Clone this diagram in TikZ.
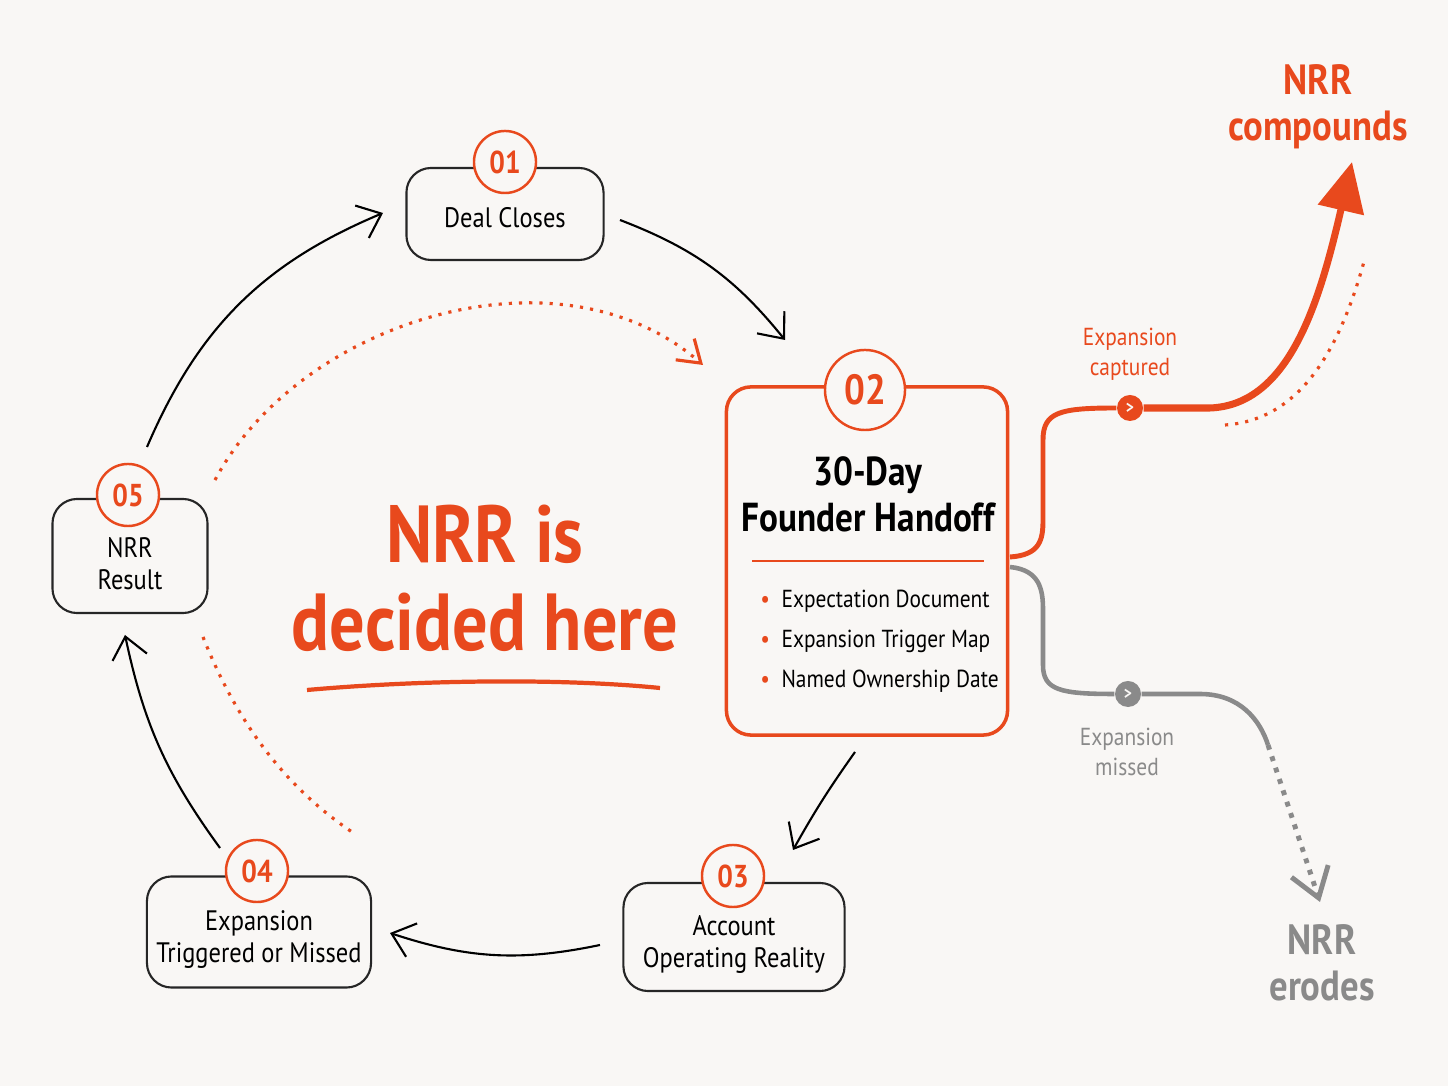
\documentclass[tikz,border=0pt]{standalone}
\usepackage{fontspec}
\setmainfont[FakeStretch=0.87]{PT Sans}
\usetikzlibrary{arrows.meta}
\definecolor{bg}{HTML}{F9F7F5}
\definecolor{org}{HTML}{E8491D}
\definecolor{gr}{HTML}{8A8A8A}
\begin{document}
\begin{tikzpicture}[x=0.01cm,y=-0.01cm,
 box/.style={draw=black!85,line width=0.6pt,rounded corners=7pt,fill=bg,align=center,font=\fontsize{8}{9}\selectfont,inner sep=0pt},
 num/.style={circle,draw=org,line width=0.7pt,fill=bg,text=org,font=\fontsize{9}{10}\selectfont\bfseries,minimum size=0.62cm,inner sep=0pt},
 cyc/.style={line width=0.6pt,-{Straight Barb[length=6pt,width=10pt]}},
 dot/.style={org,line width=0.9pt,dotted}]
\fill[bg] (0,0) rectangle (1448,1086);
\useasboundingbox (0,0) rectangle (1448,1086);
% boxes
\node[box,minimum width=1.97cm,minimum height=0.92cm] (b1) at (505,214) {\\[-1pt]Deal Closes};
\node[num] (n1) at (505,162) {01};
\node[box,draw=org,line width=1pt,minimum width=2.81cm,minimum height=3.48cm] (b2) at (867,561) {};
\node[num,minimum size=0.8cm,font=\fontsize{12}{13}\selectfont\bfseries] (n2) at (865,390) {02};
\node[font=\fontsize{11.5}{13}\selectfont\bfseries,align=center] (t2) at (868,494) {30-Day\\Founder Handoff};
\coordinate (l2a) at (752,561); \coordinate (l2b) at (984,561);
\draw[org,line width=0.8pt] (l2a) -- (l2b);
\node[anchor=west,font=\fontsize{7}{8}\selectfont] (p1) at (748,601) {\textcolor{org}{\textbullet}\ \ Expectation Document};
\node[anchor=west,font=\fontsize{7}{8}\selectfont] (p2) at (748,641) {\textcolor{org}{\textbullet}\ \ Expansion Trigger Map};
\node[anchor=west,font=\fontsize{7}{8}\selectfont] (p3) at (748,681) {\textcolor{org}{\textbullet}\ \ Named Ownership Date};
\node[box,minimum width=2.21cm,minimum height=1.08cm] (b3) at (734,937) {\\[1pt]Account\\Operating Reality};
\node[num] (n3) at (733,876) {03};
\node[box,minimum width=2.24cm,minimum height=1.11cm] (b4) at (259,932) {\\[1pt]Expansion\\Triggered or Missed};
\node[num] (n4) at (257,871) {04};
\node[box,minimum width=1.55cm,minimum height=1.14cm] (b5) at (130,556) {\\[1pt]NRR\\Result};
\node[num] (n5) at (128,495) {05};
% cycle arrows
\coordinate (a1s) at (620,220); \coordinate (a1e) at (785,340);
\draw[cyc] (a1s) to[bend left=15] (a1e);
\coordinate (a2s) at (855,752); \coordinate (a2e) at (793,850);
\draw[cyc] (a2s) to[bend right=3] (a2e);
\coordinate (a3s) at (600,945); \coordinate (a3e) at (390,933);
\draw[cyc] (a3s) to[bend left=15] (a3e);
\coordinate (a4s) at (220,848); \coordinate (a4e) at (125,635);
\draw[cyc] (a4s) to[bend left=12] (a4e);
\coordinate (a5s) at (147,447); \coordinate (a5e) at (383,213);
\draw[cyc] (a5s) to[bend left=22] (a5e);
% dotted arcs
\coordinate (d1s) at (215,480); \coordinate (d1e) at (703,365);
\draw[dot,-{Straight Barb[length=6pt,width=8pt]}] (d1s) .. controls (300,320) and (560,240) .. (d1e);
\coordinate (d2s) at (203,637); \coordinate (d2e) at (352,832);
\draw[dot] (d2s) .. controls (240,730) and (290,790) .. (d2e);
% center text
\node[text=org,font=\fontsize{23}{25}\selectfont\bfseries,align=center] (ct) at (485,578) {NRR is\\decided here};
\coordinate (u1) at (307,690); \coordinate (u2) at (660,688);
\draw[org,line width=1.2pt] (u1) .. controls (420,680) and (560,678) .. (u2);
% branches
\node[circle,fill=org,minimum size=0.26cm,inner sep=0pt] (c1) at (1130,408) {};
\node[text=bg,font=\tiny\bfseries] at (c1) {>};
\draw[org,line width=1.4pt] (1010,557) .. controls (1040,555) and (1043,540) .. (1043,520) -- (1043,440) .. controls (1043,412) and (1060,408) .. (c1.west);
\draw[org,line width=2pt,-{Triangle[length=14pt,width=13pt]}] (c1.east) -- (1210,408) .. controls (1290,405) and (1320,300) .. (1352,162);
\draw[dot] (1225,425) .. controls (1300,420) and (1340,350) .. (1365,258);
\node[text=org,font=\fontsize{7}{8.5}\selectfont,align=center] (lc) at (1130,354) {Expansion\\captured};
\node[text=org,font=\fontsize{12}{13}\selectfont\bfseries,align=center] (nc) at (1318,107) {NRR\\compounds};
\node[circle,fill=gr,minimum size=0.26cm,inner sep=0pt] (c2) at (1128,694) {};
\node[text=bg,font=\tiny\bfseries] at (c2) {>};
\draw[gr,line width=1.3pt] (1010,567) .. controls (1040,570) and (1043,590) .. (1043,610) -- (1043,665) .. controls (1043,690) and (1060,694) .. (c2.west);
\draw[gr,line width=1.3pt] (c2.east) -- (1200,694) .. controls (1240,694) and (1260,720) .. (1268,745);
\coordinate (g1) at (1268,745); \coordinate (g2) at (1320,902);
\draw[gr,line width=1.4pt,dotted,-{Straight Barb[length=8pt,width=11pt]}] (g1) -- (g2);
\node[text=gr,font=\fontsize{7}{8.5}\selectfont,align=center] (lm) at (1127,752) {Expansion\\missed};
\node[text=gr,font=\fontsize{12}{13}\selectfont\bfseries,align=center] (ne) at (1322,963) {NRR\\erodes};
\end{tikzpicture}
\end{document}
